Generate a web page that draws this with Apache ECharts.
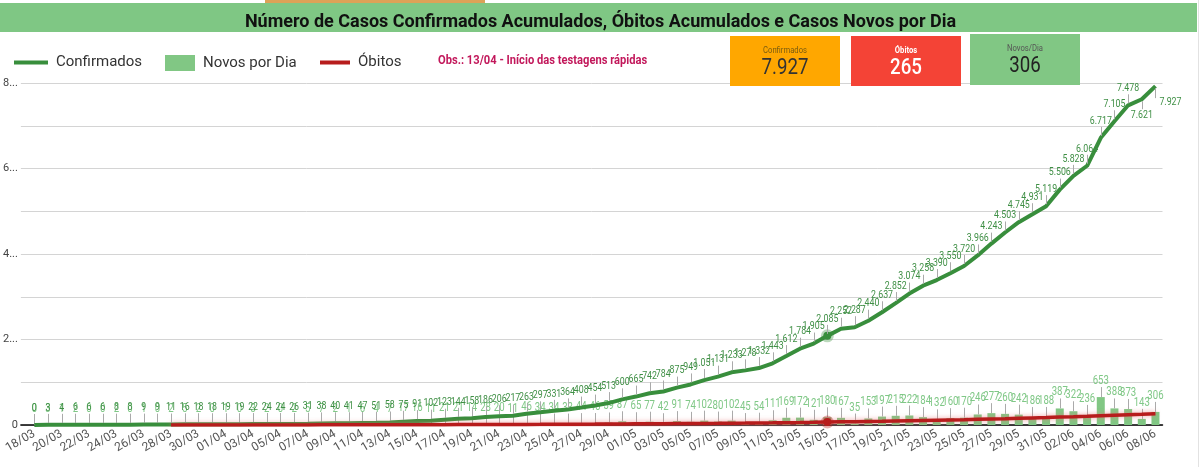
<!DOCTYPE html>
<html><head><meta charset="utf-8">
<script src="https://cdn.jsdelivr.net/npm/echarts/dist/echarts.min.js"></script>
<style>html,body{margin:0;padding:0;background:#fff}#c{width:1201px;height:467px}</style>
</head><body><div id="c"></div>
<script>
const categories = ['18/03','19/03','20/03','21/03','22/03','23/03','24/03','25/03','26/03','27/03','28/03','29/03','30/03','31/03',
'01/04','02/04','03/04','04/04','05/04','06/04','07/04','08/04','09/04','10/04','11/04','12/04','13/04','14/04','15/04','16/04','17/04','18/04','19/04','20/04','21/04','22/04','23/04','24/04','25/04','26/04','27/04','28/04','29/04','30/04',
'01/05','02/05','03/05','04/05','05/05','06/05','07/05','08/05','09/05','10/05','11/05','12/05','13/05','14/05','15/05','16/05','17/05','18/05','19/05','20/05','21/05','22/05','23/05','24/05','25/05','26/05','27/05','28/05','29/05','30/05','31/05',
'01/06','02/06','03/06','04/06','05/06','06/06','07/06','08/06'];
const confirmados = [0,3,4,6,6,6,8,8,9,9, 11,16,18,18,19,19,22,24,24,26, 31,38,40,41,47,51,58,75,91,102,
 123,144,158,186,206,217,263,297,331,364, 408,454,513,600,665,742,784,875,949,1051,
 1131,1233,1278,1332,1443,1612,1784,1905,2085,2252, 2287,2440,2637,2852,3074,3258,3390,3550,3720,3966,
 4243,4503,4745,4931,5119,5506,5828,6064,6717,7105, 7478,7621,7927];
const novosPorDia = [0,3,1,2,0,0,2,0,1,0, 2,5,2,0,1,0,3,2,0,2, 5,7,2,1,6,4,7,17,16,11,
 21,21,14,28,20,11,46,34,34,33, 44,46,59,87,65,77,42,91,74,102,
 80,102,45,54,111,169,172,121,180,167, 35,153,197,215,222,184,132,160,170,246,
 277,260,242,186,188,387,322,236,653,388, 373,143,306];
const obitos = [null,null,null,null,null,null,null,null,null,null,
 1,1,1,1,1,1,2,2,2,2, 2,3,3,4,4,4,5,5,6,7, 8,9,10,11,12,13,14,15,17,18,
 20,21,23,25,27,29,31,33,35,38, 40,43,45,48,51,55,59,64,70,74,
 78,83,88,94,100,106,112,118,124,132, 140,148,157,166,175,185,195,206,218,230, 242,253,265];
const yTickLabels = ['0','','2...','','4...','','6...','','8...'];
const seriesNames = ['Confirmados','Novos por Dia','Óbitos'];
const kpis = [
  {label:'Confirmados', value:'7.927'},
  {label:'Óbitos', value:'265'},
  {label:'Novos/Dia', value:'306'}
];
const titleText = 'Número de Casos Confirmados Acumulados, Óbitos Acumulados e Casos Novos por Dia';
const obsText = 'Obs.: 13/04 - Início das testagens rápidas';
const highlightIndex = 58;

const C_CONF = '#388e3c', C_NOV = '#81c784', C_OB = '#b71c1c';
const n = categories.length;
function fmt(v){ return String(v).replace(/\B(?=(\d{3})+(?!\d))/g,'.'); }

const confData = confirmados.map((v,i)=> i===highlightIndex ?
  {value:v, symbol:'circle', symbolSize:8, itemStyle:{color:C_CONF, borderColor:'rgba(56,142,60,0.35)', borderWidth:5}} : v);
const obData = obitos.map((v,i)=> i===highlightIndex ?
  {value:v, symbol:'circle', symbolSize:8, itemStyle:{color:C_OB, borderColor:'rgba(183,28,28,0.35)', borderWidth:5}} : v);

function txt(x,y,text,font,fill,sx){
  return {type:'text', x:x, y:y, scaleX:sx||1, style:{text:text, x:0, y:0, font:font, fill:fill,
    align:'center', textAlign:'center', verticalAlign:'middle', textVerticalAlign:'middle'}};
}

const confLabels = {
  type:'custom', xAxisIndex:1, yAxisIndex:1, silent:true, z:6,
  data: confirmados.map((v,i)=>[i,v]),
  renderItem: function(params, api){
    const i = api.value(0), v = api.value(1);
    const p = api.coord([i, v]);
    const x = Math.round(p[0])+0.5;
    let lx = p[0], ly = p[1]-17, y1 = p[1]-2, y2 = p[1]-11;
    if (i === n-2) { ly = p[1]+16; y1 = p[1]+2; y2 = p[1]+10; }
    if (i === n-1) { lx = p[0]+15; ly = p[1]+16; y1 = p[1]+2; y2 = p[1]+12; }
    return {type:'group', children:[
      {type:'line', shape:{x1:x,y1:y1,x2:x,y2:y2}, style:{stroke:'#aaaaaa', lineWidth:1}},
      txt(lx, ly, fmt(v), '11px Roboto', '#3f8f45', 0.8)
    ]};
  }
};
const novLabels = {
  type:'custom', xAxisIndex:1, yAxisIndex:1, silent:true, z:2,
  data: novosPorDia.map((v,i)=>[i,v]),
  renderItem: function(params, api){
    const i = api.value(0), v = api.value(1);
    const p = api.coord([i, v]);
    const x = Math.round(p[0])+0.5;
    return {type:'group', children:[
      {type:'line', shape:{x1:x,y1:p[1]-10,x2:x,y2:p[1]}, style:{stroke:'#aaaaaa', lineWidth:1}},
      txt(p[0], p[1]-16, fmt(v), '12px Roboto', '#80c887', 0.8)
    ]};
  }
};

const kpiBoxes = [
  {x:730, y:36, w:110, h:50, fill:'#ffa700', lc:'#7a5c10', vc:'#333333', lf:'9px Roboto', vf:'22px Roboto'},
  {x:851, y:36, w:110, h:50, fill:'#f44336', lc:'#ffffff', vc:'#ffffff', lf:'bold 9px Roboto', vf:'500 22px Roboto'},
  {x:970, y:34, w:110, h:51, fill:'#81c784', lc:'#555555', vc:'#222222', lf:'9px Roboto', vf:'22px Roboto'}
];
const graphics = [
  {type:'rect', shape:{x:0,y:3,width:1197,height:29}, style:{fill:'#7fc784'}, z:0},
  {type:'rect', shape:{x:265,y:0,width:220,height:3}, style:{fill:'#dca257'}, z:0},
  {type:'line', shape:{x1:1198.5,y1:0,x2:1198.5,y2:467}, style:{stroke:'#e2e2e2', lineWidth:1}, z:0},
  {type:'text', x:438, y:61, scaleX:0.93, style:{text:obsText, x:0, y:0, font:'bold 12px Roboto', fill:'#c2185b',
    align:'left', textAlign:'left', verticalAlign:'middle', textVerticalAlign:'middle'}, z:5}
];
kpiBoxes.forEach((b,k)=>{
  graphics.push({type:'rect', shape:{x:b.x,y:b.y,width:b.w,height:b.h}, style:{fill:b.fill}, z:10});
  const cx = b.x + b.w/2;
  graphics.push(Object.assign(txt(cx, b.y+15, kpis[k].label, b.lf, b.lc, 0.85), {z:11}));
  graphics.push(Object.assign(txt(cx, b.y+32, kpis[k].value, b.vf, b.vc, 0.85), {z:11}));
});

const legendBase = {top:50, icon:'rect', selectedMode:false, textStyle:{fontSize:15, color:'#333', fontFamily:'Roboto', padding:[0,0,0,3]}};
const chart = echarts.init(document.getElementById('c'), null, {renderer:'canvas'});
chart.setOption({
  animation:false,
  backgroundColor:'#ffffff',
  title:{text:titleText, left:'center', top:8, textStyle:{fontSize:18, fontWeight:'bold', color:'#111', fontFamily:'Roboto'}, z:3},
  legend:[
    Object.assign({}, legendBase, {data:[seriesNames[0]], left:9, itemWidth:34, itemHeight:4}),
    Object.assign({}, legendBase, {data:[seriesNames[1]], left:160, itemWidth:30, itemHeight:16}),
    Object.assign({}, legendBase, {data:[seriesNames[2]], left:315, itemWidth:30, itemHeight:4})
  ],
  grid:[
    {left:20, right:38.5, top:83, bottom:42},
    {left:27.5, right:38.7, top:83, bottom:42}
  ],
  xAxis:[
    {gridIndex:0, type:'value', min:0, max:1, axisLabel:{show:false}, axisTick:{show:false}, splitLine:{show:false},
     axisLine:{show:true, lineStyle:{color:'#000', width:1.5}}},
    {gridIndex:1, type:'category', data:categories, boundaryGap:true, axisLine:{show:false}, axisTick:{show:false},
     axisLabel:{interval:1, rotate:30, color:'#555', fontSize:12, fontFamily:'Roboto', margin:8}}
  ],
  yAxis:[
    {gridIndex:0, type:'value', min:0, max:8000, interval:1000, axisLine:{show:false}, axisTick:{show:false},
     splitLine:{show:true, lineStyle:{color:'#d4d4d4', width:1}},
     axisLabel:{formatter:(v)=>yTickLabels[Math.round(v/1000)] || '', color:'#444', fontSize:11, fontFamily:'Roboto', margin:3}},
    {gridIndex:1, type:'value', min:0, max:8000, interval:1000, show:false}
  ],
  graphic: graphics,
  series:[
    {name:seriesNames[1], type:'bar', xAxisIndex:1, yAxisIndex:1, data:novosPorDia, barWidth:8,
     itemStyle:{color:C_NOV}, color:C_NOV, z:1},
    novLabels,
    {name:seriesNames[0], type:'line', xAxisIndex:1, yAxisIndex:1, data:confData, symbol:'none', showSymbol:true, showAllSymbol:true,
     color:C_CONF, lineStyle:{color:C_CONF, width:4}, itemStyle:{color:C_CONF}, z:3},
    {name:seriesNames[2], type:'line', xAxisIndex:1, yAxisIndex:1, data:obData, symbol:'none', showSymbol:true, showAllSymbol:true,
     color:C_OB, connectNulls:false,
     lineStyle:{color:C_OB, width:3.5, shadowColor:'rgba(229,115,115,0.7)', shadowBlur:5}, itemStyle:{color:C_OB}, z:4},
    confLabels
  ]
});
</script></body></html>
